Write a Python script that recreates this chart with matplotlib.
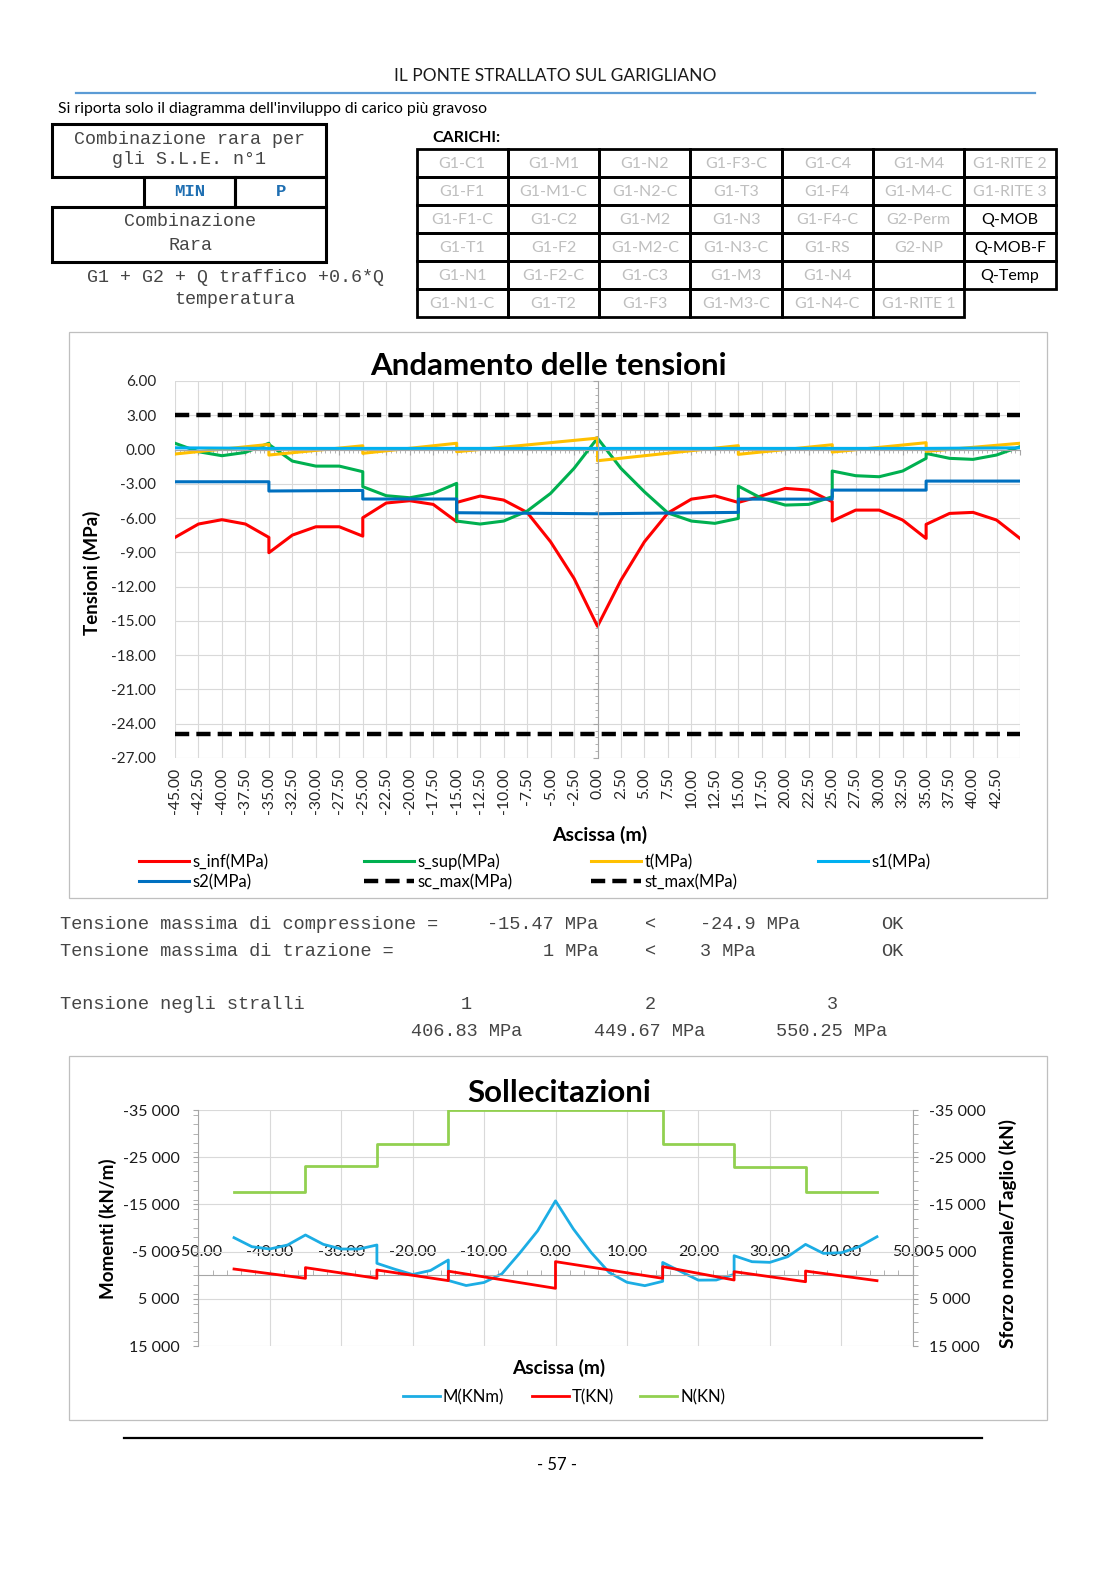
import numpy as np
import matplotlib
matplotlib.use('Agg')
import matplotlib.pyplot as plt
from matplotlib.patches import Rectangle
from matplotlib.lines import Line2D
from matplotlib.ticker import MultipleLocator, FuncFormatter

plt.rcParams['font.family'] = ['Lato', 'DejaVu Sans']
MONO = ['Liberation Mono', 'DejaVu Sans Mono']

# ---------------- data ----------------
carichi = [
    ['G1-C1', 'G1-M1', 'G1-N2', 'G1-F3-C', 'G1-C4', 'G1-M4', 'G1-RITE 2'],
    ['G1-F1', 'G1-M1-C', 'G1-N2-C', 'G1-T3', 'G1-F4', 'G1-M4-C', 'G1-RITE 3'],
    ['G1-F1-C', 'G1-C2', 'G1-M2', 'G1-N3', 'G1-F4-C', 'G2-Perm', 'Q-MOB'],
    ['G1-T1', 'G1-F2', 'G1-M2-C', 'G1-N3-C', 'G1-RS', 'G2-NP', 'Q-MOB-F'],
    ['G1-N1', 'G1-F2-C', 'G1-C3', 'G1-M3', 'G1-N4', '', 'Q-Temp'],
    ['G1-N1-C', 'G1-T2', 'G1-F3', 'G1-M3-C', 'G1-N4-C', 'G1-RITE 1', None],
]
carichi_attivi = ['Q-MOB', 'Q-MOB-F', 'Q-Temp']

# tensioni (MPa)
x_s = [-45, -42.5, -40, -37.5, -35, -35, -32.5, -30, -27.5, -25, -25, -22.5, -20, -17.5,
       -15, -15, -12.5, -10, -7.5, -5, -2.5, 0, 0, 2.5, 5, 7.5, 10, 12.5, 15, 15, 17.5,
       20, 22.5, 25, 25, 27.5, 30, 32.5, 35, 35, 37.5, 40, 42.5, 45]
s_inf = [-7.69, -6.52, -6.14, -6.52, -7.69, -9.03, -7.49, -6.76, -6.76, -7.58, -5.97, -4.68,
         -4.48, -4.80, -6.32, -4.63, -4.07, -4.42, -5.50, -8.07, -11.28, -15.47, -15.47,
         -11.43, -8.07, -5.55, -4.34, -4.05, -4.63, -4.63, -4.05, -3.40, -3.55, -4.57, -6.26,
         -5.30, -5.30, -6.17, -7.78, -6.55, -5.59, -5.50, -6.17, -7.78]
s_sup = [0.55, -0.19, -0.54, -0.25, 0.55, 0.45, -1.01, -1.45, -1.45, -1.94, -3.25, -4.04,
         -4.22, -3.84, -2.96, -6.26, -6.52, -6.26, -5.39, -3.84, -1.65, 1.00, 1.00, -1.65,
         -3.70, -5.55, -6.26, -6.46, -6.03, -3.20, -4.28, -4.86, -4.80, -4.13, -1.88, -2.29,
         -2.38, -1.88, -0.77, -0.34, -0.77, -0.86, -0.48, 0.25]
x_t = [-45, -35, -35, -25, -25, -15, -15, 0, 0, 15, 15, 25, 25, 35, 35, 45]
t_val = [-0.39, 0.45, -0.48, 0.33, -0.33, 0.55, -0.19, 1.00, -0.98, 0.34, -0.42, 0.42,
         -0.22, 0.60, -0.16, 0.55]
x_s1 = [-45, -35, -25, -15, 0, 15, 25, 35, 45]
s1_val = [0.15, 0.10, 0.10, 0.10, 0.10, 0.10, 0.10, 0.10, 0.15]
x_s2 = [-45, -35, -35, -25, -25, -15, -15, 0, 15, 15, 25, 25, 35, 35, 45]
s2_val = [-2.82, -2.82, -3.63, -3.58, -4.33, -4.33, -5.53, -5.62, -5.50, -4.34, -4.34,
          -3.55, -3.55, -2.76, -2.76]
x_lim_line = [-45, 45]
sc_max = [-24.9, -24.9]
st_max = [3.0, 3.0]

# sollecitazioni
x_m = [-45, -42.5, -40, -37.5, -35, -32.5, -30, -27.5, -25, -25, -22.5, -20, -17.5, -15, -15,
       -12.5, -10, -7.5, -5, -2.5, 0, 2.5, 5, 7.5, 10, 12.5, 15, 15, 17.5, 20, 22.5, 25, 25,
       27.5, 30, 32.5, 35, 37.5, 40, 42.5, 45]
m_val = [-7950, -6040, -5550, -6400, -8520, -6540, -5550, -5550, -6400, -2520, -1270, -150,
         -1000, -3220, 1120, 2190, 1540, -300, -4700, -9400, -15750, -9800, -4800, -600, 1500,
         2220, 1300, -2700, -800, 1050, 1020, -180, -4130, -2860, -2720, -3920, -6530, -4620,
         -4760, -6030, -8150]
x_tt = [-45, -35, -35, -25, -25, -15, -15, 0, 0, 15, 15, 25, 25, 35, 35, 45]
tt_val = [-1310, 660, -1600, 660, -1100, 1150, -850, 2780, -2870, 660, -1810, 1020, -750,
          1380, -880, 1160]
x_n = [-45, -35, -35, -25, -25, -15, -15, 15, 15, 25, 25, 35, 35, 45]
n_val = [-17700, -17700, -23100, -23100, -27700, -27700, -34900, -34900, -27700, -27700,
         -23000, -23000, -17700, -17700]

# ---------------- page ----------------
W, H = 1117, 1579


def fx(x):
    return x / W


def fy(y):
    return 1 - y / H


def box(x0, y0, x1, y1, lw=2.2, ec='black'):
    fig.add_artist(Rectangle((fx(x0), fy(y1)), (x1 - x0) / W, (y1 - y0) / H,
                             transform=fig.transFigure, fill=False, lw=lw, ec=ec))


def hline(x0, x1, y, color, lw):
    fig.add_artist(Line2D([fx(x0), fx(x1)], [fy(y), fy(y)], transform=fig.transFigure,
                          color=color, lw=lw))


fig = plt.figure(figsize=(W / 100, H / 100), dpi=100)

fig.text(fx(555), fy(76), 'IL PONTE STRALLATO SUL GARIGLIANO', ha='center', va='center',
         fontsize=12.5, color='#1a1a1a')
hline(76, 1035, 93, '#5B9BD5', 1.6)
fig.text(fx(58), fy(109), "Si riporta solo il diagramma dell'inviluppo di carico più gravoso",
         ha='left', va='center', fontsize=11.3)

# left boxes
mono_col = '#454545'
box(52, 124, 326, 177)
fig.text(fx(189), fy(139), 'Combinazione rara per', family=MONO, fontsize=13.2,
         ha='center', va='center', color=mono_col)
fig.text(fx(189), fy(160), 'gli S.L.E. n°1', family=MONO, fontsize=13.2,
         ha='center', va='center', color=mono_col)
box(144, 177, 235, 207)
box(235, 177, 326, 207)
fig.text(fx(190), fy(192), 'MIN', family=MONO, fontsize=12.5, weight='bold',
         ha='center', va='center', color='#1F6FB2')
fig.text(fx(281), fy(192), 'P', family=MONO, fontsize=12.5, weight='bold',
         ha='center', va='center', color='#1F6FB2')
box(52, 207, 326, 262)
fig.text(fx(190), fy(221), 'Combinazione', family=MONO, fontsize=13.2,
         ha='center', va='center', color=mono_col)
fig.text(fx(190), fy(246), 'Rara', family=MONO, fontsize=13.2,
         ha='center', va='center', color=mono_col)
fig.text(fx(235), fy(277), 'G1 + G2 + Q traffico +0.6*Q', family=MONO, fontsize=13.2,
         ha='center', va='center', color=mono_col)
fig.text(fx(235), fy(299), 'temperatura', family=MONO, fontsize=13.2,
         ha='center', va='center', color=mono_col)

# carichi table
fig.text(fx(432), fy(138), 'CARICHI:', fontsize=11.5, weight='bold', ha='left', va='center')
tab_x0, tab_y0, cw, ch = 416.5, 149.3, 91.3, 27.95
for r, row in enumerate(carichi):
    for c, name in enumerate(row):
        if name is None:
            continue
        x0 = tab_x0 + c * cw
        y0 = tab_y0 + r * ch
        box(x0, y0, x0 + cw, y0 + ch, lw=2.0)
        col = 'black' if name in carichi_attivi else '#BFBFBF'
        fig.text(fx(x0 + cw / 2), fy(y0 + ch / 2 + 1), name, ha='center', va='center',
                 fontsize=11.5, color=col)

# ---------------- chart 1 ----------------
box(68.5, 332, 1047, 898, lw=0.9, ec='#BFBFBF')
fig.text(fx(548), fy(366), 'Andamento delle tensioni', ha='center', va='center',
         fontsize=22.5, weight='bold')

ax1 = fig.add_axes([fx(175), fy(758), 845 / W, 377 / H])
ax1.set_xlim(-45, 45)
ax1.set_ylim(-27, 6)
xt1 = np.arange(-45, 45.01, 2.5)
ax1.set_xticks(xt1)
ax1.set_xticklabels(['%.2f' % v for v in xt1[:-1]] + [''])
ax1.set_yticks(np.arange(-27, 6.01, 3))
ax1.yaxis.set_major_formatter(FuncFormatter(lambda v, p: '%.2f' % v))
ax1.xaxis.set_minor_locator(MultipleLocator(0.5))
ax1.yaxis.set_minor_locator(MultipleLocator(0.6))
ax1.grid(True, which='major', color='#D9D9D9', lw=0.8)
ax1.set_axisbelow(True)
for s in ['left', 'bottom']:
    ax1.spines[s].set_visible(False)
ax1.spines['top'].set_position(('data', 0))
ax1.spines['right'].set_position(('data', 0))
for s in ['top', 'right']:
    ax1.spines[s].set_color('#A6A6A6')
    ax1.spines[s].set_linewidth(0.8)
ax1.tick_params(axis='x', which='both', bottom=False, top=True, labelbottom=True,
                labeltop=False, direction='in', color='#A6A6A6', labelsize=11.3,
                labelcolor='#262626', pad=7, labelrotation=90)
ax1.tick_params(axis='y', which='both', left=False, right=True, labelleft=True,
                labelright=False, direction='in', color='#A6A6A6', labelsize=11,
                labelcolor='#262626', pad=13.5)
ax1.tick_params(which='major', length=3.5)
ax1.tick_params(which='minor', length=2.2)

ax1.plot(x_s, s_inf, color='#FF0000', lw=2.2, label='s_inf(MPa)')
ax1.plot(x_s, s_sup, color='#00B050', lw=2.2, label='s_sup(MPa)')
ax1.plot(x_t, t_val, color='#FFC000', lw=2.2, label='t(MPa)')
ax1.plot(x_s1, s1_val, color='#00B0F0', lw=2.2, label='s1(MPa)')
ax1.plot(x_s2, s2_val, color='#0070C0', lw=2.2, label='s2(MPa)')
ax1.plot(x_lim_line, sc_max, color='black', lw=3.2, dashes=(3.2, 1.6), label='sc_max(MPa)')
ax1.plot(x_lim_line, st_max, color='black', lw=3.2, dashes=(3.2, 1.6), label='st_max(MPa)')

ax1.set_ylabel('Tensioni (MPa)', fontsize=13.5, weight='bold', va='center')
ax1.yaxis.set_label_coords((92 - 175) / 845, (758 - 573) / 377)
ax1.set_xlabel('Ascissa (m)', fontsize=14, weight='bold')
ax1.xaxis.set_label_coords((600 - 175) / 845, (758 - 835) / 377)
ax1.xaxis.label.set_va('center')

handles1 = ax1.get_lines()
leg_pos1 = [(139, 862), (364, 862), (591, 862), (818, 862), (139, 882), (364, 882), (591, 882)]
for h, (lx, ly) in zip(handles1, leg_pos1):
    fig.legend(handles=[h], loc='center left', bbox_to_anchor=(fx(lx), fy(ly)),
               frameon=False, borderpad=0, borderaxespad=0, fontsize=12,
               handlelength=3.0, handletextpad=0.2)


# ---------------- text block ----------------
def mono(x, y, s, ha='left'):
    fig.text(fx(x), fy(y), s, family=MONO, fontsize=13.4, ha=ha, va='center', color=mono_col)


mono(60, 925, 'Tensione massima di compressione =')
mono(487, 925, '-15.47 MPa')
mono(645, 925, '<')
mono(700, 925, '-24.9 MPa')
mono(881, 925, 'OK')
mono(60, 952, 'Tensione massima di trazione =')
mono(543, 952, '1 MPa')
mono(645, 952, '<')
mono(700, 952, '3 MPa')
mono(881, 952, 'OK')
mono(60, 1005, 'Tensione negli stralli')
mono(466, 1005, '1', ha='center')
mono(650, 1005, '2', ha='center')
mono(832, 1005, '3', ha='center')
mono(411, 1032, '406.83 MPa')
mono(594, 1032, '449.67 MPa')
mono(776, 1032, '550.25 MPa')

# ---------------- chart 2 ----------------
box(68.5, 1056, 1047, 1420, lw=0.9, ec='#BFBFBF')
fig.text(fx(559), fy(1093), 'Sollecitazioni', ha='center', va='center',
         fontsize=22.5, weight='bold')

ax2 = fig.add_axes([fx(198.3), fy(1346), 714.4 / W, 236 / H])
ax2.set_xlim(-50, 50)
ax2.set_ylim(15000, -35000)
ax2.set_xticks(np.arange(-50, 50.1, 10))
ax2.xaxis.set_major_formatter(FuncFormatter(lambda v, p: '%.2f' % v))
ax2.xaxis.set_minor_locator(MultipleLocator(2))
ax2.set_yticks(np.arange(-35000, 15001, 10000))
kfmt = FuncFormatter(lambda v, p: '{:,.0f}'.format(v).replace(',', ' '))
ax2.yaxis.set_major_formatter(kfmt)
ax2.yaxis.set_minor_locator(MultipleLocator(2000))
ax2.grid(True, which='major', color='#D9D9D9', lw=0.8)
ax2.set_axisbelow(True)
ax2.spines['bottom'].set_visible(False)
ax2.spines['right'].set_visible(False)
ax2.spines['top'].set_position(('data', 0))
for s in ['top', 'left']:
    ax2.spines[s].set_color('#A6A6A6')
    ax2.spines[s].set_linewidth(0.8)
ax2.tick_params(axis='x', which='both', bottom=False, labelbottom=False, top=True,
                labeltop=True, direction='out', color='#A6A6A6', labelsize=11.5,
                labelcolor='#1a1a1a', pad=8)
ax2.tick_params(axis='y', which='both', direction='out', color='#A6A6A6', labelsize=11.5,
                labelcolor='#1a1a1a', pad=10)
ax2.tick_params(which='both', length=3.5)

ax2b = ax2.twinx()
ax2b.set_ylim(15000, -35000)
ax2b.set_yticks(np.arange(-35000, 15001, 10000))
ax2b.yaxis.set_major_formatter(kfmt)
ax2b.yaxis.set_minor_locator(MultipleLocator(2000))
for s in ['left', 'top', 'bottom']:
    ax2b.spines[s].set_visible(False)
ax2b.spines['right'].set_color('#A6A6A6')
ax2b.spines['right'].set_linewidth(0.8)
ax2b.tick_params(axis='y', which='both', direction='out', color='#A6A6A6', labelsize=11.5,
                 labelcolor='#1a1a1a', pad=8.5, length=3.5)

lm, = ax2.plot(x_m, m_val, color='#1CADE4', lw=2.0, label='M(KNm)')
lt, = ax2b.plot(x_tt, tt_val, color='#FF0000', lw=2.0, label='T(KN)')
ln, = ax2b.plot(x_n, n_val, color='#92D050', lw=2.0, label='N(KN)')

ax2.set_ylabel('Momenti (kN/m)', fontsize=13.5, weight='bold', va='center')
ax2.yaxis.set_label_coords((108 - 198.3) / 714.4, (1346 - 1229) / 236)
ax2b.set_ylabel('Sforzo normale/Taglio (kN)', fontsize=13.7, weight='bold', rotation=90,
                va='center')
ax2b.yaxis.set_label_coords((1008 - 198.3) / 714.4, (1346 - 1234) / 236)
fig.text(fx(559), fy(1368), 'Ascissa (m)', ha='center', va='center', fontsize=13.8,
         weight='bold')

for h, lx in zip([lm, lt, ln], [403, 532, 640]):
    fig.legend(handles=[h], loc='center left', bbox_to_anchor=(fx(lx), fy(1397)),
               frameon=False, borderpad=0, borderaxespad=0, fontsize=12,
               handlelength=2.2, handletextpad=0.2)

# footer
hline(124, 982, 1438, 'black', 1.6)
fig.text(fx(557), fy(1465), '- 57 -', ha='center', va='center', fontsize=12)

fig.savefig('out.png', dpi=100)
